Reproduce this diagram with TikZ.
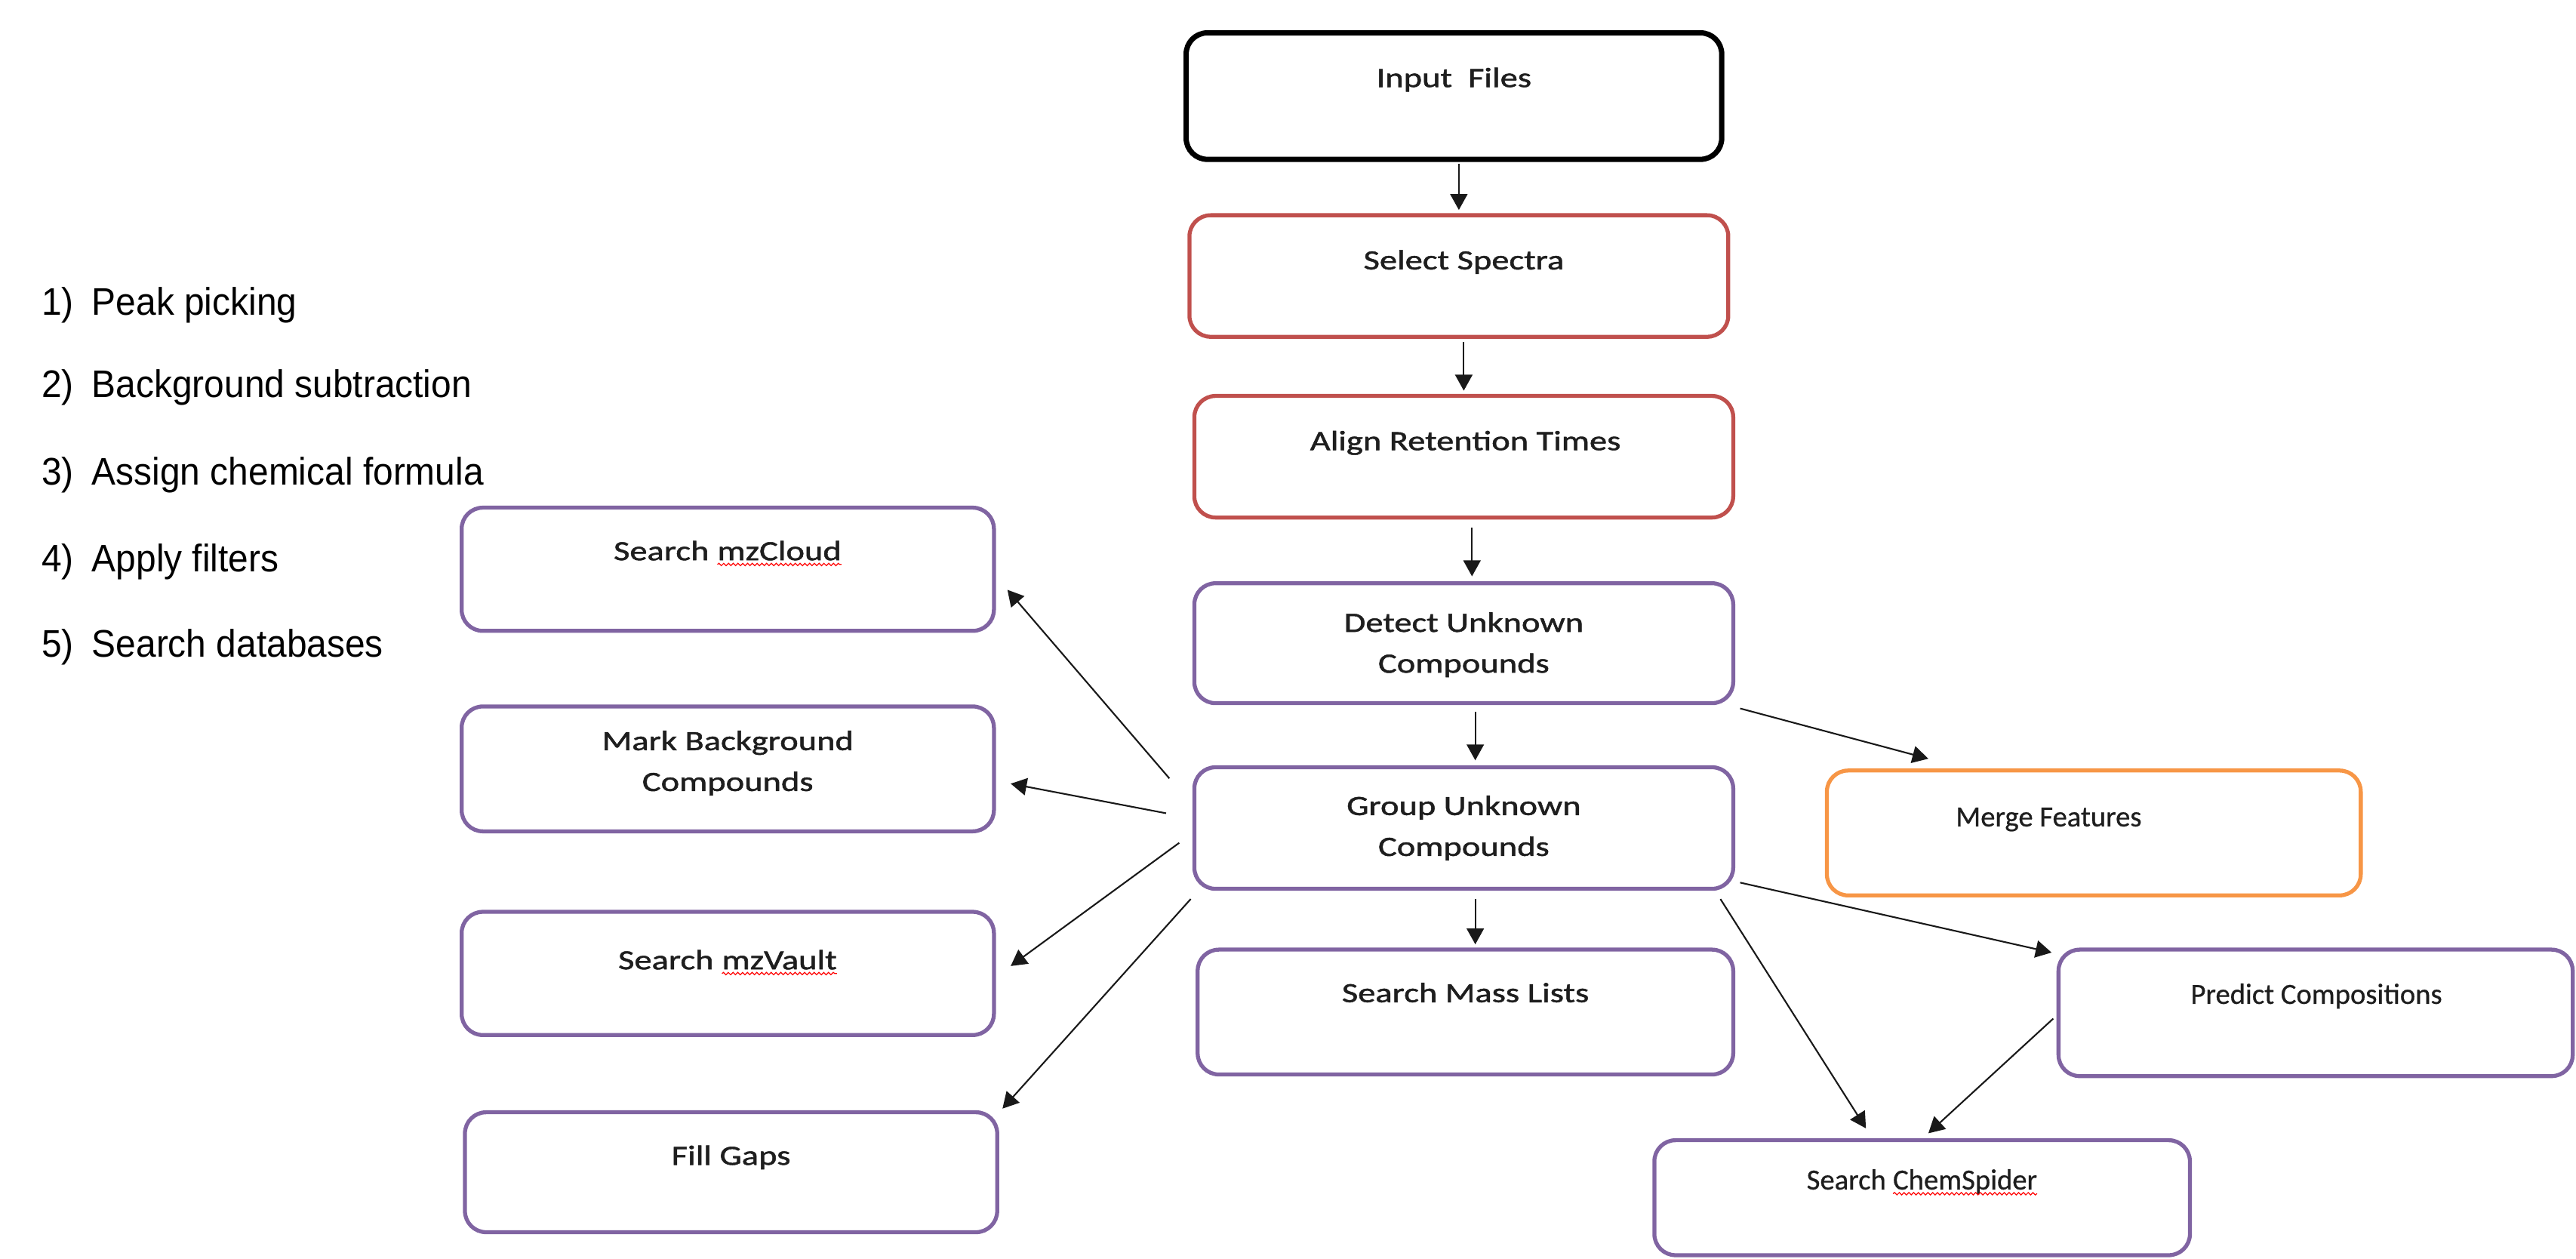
\documentclass[tikz,border=0pt]{standalone}
\usepackage{fontspec}
\usetikzlibrary{fit,calc,arrows.meta,decorations.pathmorphing}
\newfontfamily\listfont[FakeStretch=0.94]{Liberation Sans}
\newfontfamily\boxfont[FakeBold=0.6]{Carlito}
\newfontfamily\widefont[FakeStretch=1.26,FakeBold=1.4]{Carlito}
\definecolor{boxpurple}{RGB}{128,100,162}
\definecolor{boxred}{RGB}{192,80,77}
\definecolor{boxorange}{RGB}{247,150,70}
\definecolor{txt}{RGB}{30,30,30}
\newcommand{\spellmark}[1]{\tikz[baseline=(sw.base)]{\node[inner sep=0pt, outer sep=0pt] (sw) {#1}; \draw[red, line width=0.35pt, decorate, decoration={snake, amplitude=0.45pt, segment length=1.8pt}] ([yshift=-1.6pt]sw.base west) -- ([yshift=-1.6pt]sw.base east);}}
\tikzset{
  box/.style={draw, rounded corners=8pt, line width=1.5pt, inner sep=0pt},
  wlbl/.style={font=\widefont\fontsize{10.5}{15.4}\selectfont, text=txt, align=center, inner sep=0pt},
  nlbl/.style={font=\boxfont\fontsize{11}{15}\selectfont, text=txt, align=center, inner sep=0pt},
  arr/.style={-{Triangle[length=6pt,width=6.5pt]}, line width=0.6pt, draw=black!90},
  lst/.style={font=\listfont\fontsize{14.5}{17}\selectfont, anchor=base west, inner sep=0pt}
}
\begin{document}
\begin{tikzpicture}[x=0.021767cm, y=0.021767cm]
\useasboundingbox (0,0) rectangle (1568,-766);
% boxes
\node[box, draw=black, line width=2pt, fit={(722,-20) (1048,-97)}] (inp) {};
\node[box, draw=boxred, fit={(724,-131) (1052,-205)}] (sel) {};
\node[box, draw=boxred, fit={(727,-241) (1055,-315)}] (aln) {};
\node[box, draw=boxpurple, fit={(727,-355) (1055,-428)}] (det) {};
\node[box, draw=boxpurple, fit={(727,-467) (1055,-541)}] (grp) {};
\node[box, draw=boxpurple, fit={(729,-578) (1055,-654)}] (msl) {};
\node[box, draw=boxorange, fit={(1112,-469) (1437,-545)}] (mrg) {};
\node[box, draw=boxpurple, fit={(1253,-578) (1566,-655)}] (prd) {};
\node[box, draw=boxpurple, fit={(1007,-694) (1333,-764)}] (chs) {};
\node[box, draw=boxpurple, fit={(281,-309) (605,-384)}] (mzc) {};
\node[box, draw=boxpurple, fit={(281,-430) (605,-506)}] (mkb) {};
\node[box, draw=boxpurple, fit={(281,-555) (605,-630)}] (mzv) {};
\node[box, draw=boxpurple, fit={(283,-677) (607,-750)}] (fil) {};
% texts
\node[wlbl, anchor=base] (tinp) at (885,-53) {Input\ \ Files};
\node[wlbl, anchor=base] (tsel) at (891,-164) {Select Spectra};
\node[wlbl, anchor=base] (taln) at (892,-274) {Align Retention Times};
\node[wlbl] (tdet) at (891,-392.5) {Detect Unknown\\Compounds};
\node[wlbl] (tgrp) at (891,-504) {Group Unknown\\Compounds};
\node[wlbl, anchor=base] (tmsl) at (892,-610) {Search Mass Lists};
\node[nlbl, anchor=base] (tmrg) at (1247,-503) {Merge Features};
\node[nlbl, anchor=base] (tprd) at (1410,-611) {Predict Compositions};
\node[nlbl, anchor=base] (tchs) at (1170,-724) {Search \spellmark{ChemSpider}};
\node[wlbl, anchor=base] (tmzc) at (443,-341) {Search \spellmark{mzCloud}};
\node[wlbl] (tmkb) at (443,-464.5) {Mark Background\\Compounds};
\node[wlbl, anchor=base] (tmzv) at (443,-590) {Search \spellmark{mzVault}};
\node[wlbl, anchor=base] (tfil) at (445,-709) {Fill Gaps};
% list
\node[lst] (l1) at (25,-192) {\makebox[19pt][l]{1)}Peak picking};
\node[lst] (l2) at (25,-242) {\makebox[19pt][l]{2)}Background subtraction};
\node[lst] (l3) at (25,-295) {\makebox[19pt][l]{3)}Assign chemical formula};
\node[lst] (l4) at (25,-348) {\makebox[19pt][l]{4)}Apply filters};
\node[lst] (l5) at (25,-400) {\makebox[19pt][l]{5)}Search databases};
% main chain
\draw[arr] ($(inp.south -| sel.north)+(0,-1)$) -- ($(sel.north)+(0,2)$);
\draw[arr] ($(sel.south -| aln.north)+(0,-2)$) -- ($(aln.north)+(0,2)$);
\draw[arr] ($(aln.south)+(5,-5)$) -- ($(det.north)+(5,3)$);
\draw[arr] ($(det.south)+(7,-4)$) -- ($(grp.north)+(7,3)$);
\draw[arr] ($(grp.south)+(7,-5)$) -- ($(msl.north)+(6,2)$);
% side arrows
\draw[arr] ($(det.south east)+(3,-2)$) -- ($(mrg.north west)+(63,6)$);
\draw[arr] ($(grp.south east)+(3,5)$) -- ($(prd.north west)+(-3,-3)$);
\draw[arr] ($(grp.south east)+(-9,-5)$) -- ($(chs.north west)+(130,6)$);
\draw[arr] ($(prd.west)+(-2,-3.5)$) -- ($(chs.north west)+(168,3)$);
\draw[arr] ($(grp.north west)+(-14,-8)$) -- ($(mzc.east)+(7,-12.5)$);
\draw[arr] ($(grp.west)+(-16,9)$) -- ($(mkb.east)+(9,-9)$);
\draw[arr] ($(grp.west)+(-8,-9)$) -- ($(mzv.east)+(9,4.5)$);
\draw[arr] ($(grp.south west)+(-1,-5)$) -- ($(fil.north east)+(2,1)$);
\end{tikzpicture}
\end{document}
